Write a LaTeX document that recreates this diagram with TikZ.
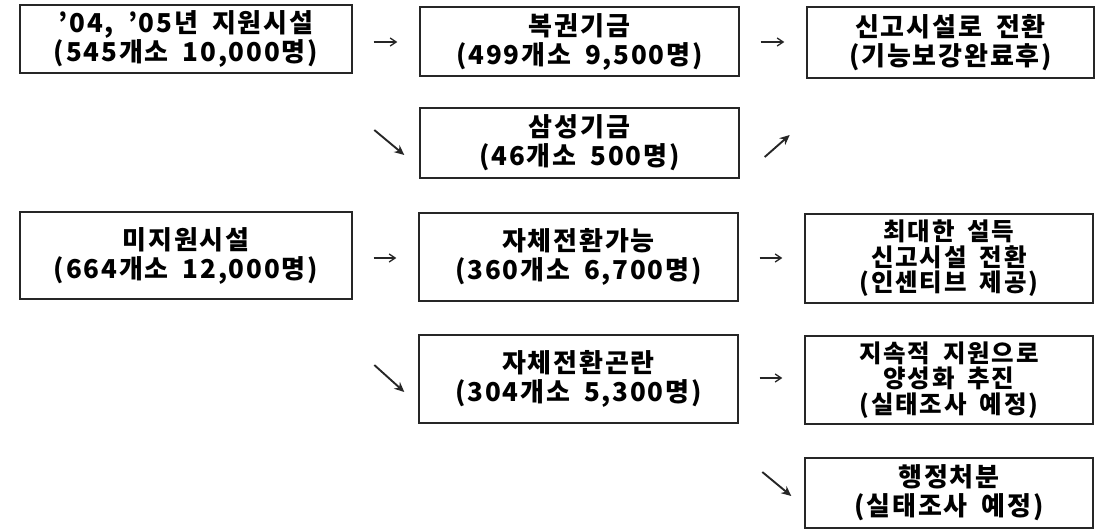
\documentclass[tikz,border=0pt]{standalone}
\usepackage{fontspec}
\setmainfont{Noto Sans CJK KR}[LetterSpace=7,WordSpace=1.8]
\usetikzlibrary{arrows.meta,calc}
\tikzset{
  box/.style={draw=black!85, line width=1.4pt, align=center, inner sep=0pt,
    font=\fontsize{26}{29}\selectfont\bfseries},
  box3/.style={box, font=\fontsize{24.5}{25.5}\selectfont\bfseries},
  arr/.style={-{Straight Barb[length=6pt,width=8pt]}, line width=1.3pt, black!85},
  darr/.style={-{Stealth[length=10pt,width=9pt]}, line width=1.9pt, black!85}
}
\begin{document}
\begin{tikzpicture}[x=1pt,y=-1pt]
\useasboundingbox (0,0) rectangle (1103,530);
\node[box, minimum width=332pt, minimum height=68pt] (b1) at (186,39) {'04, '05년 지원시설\\(545개소 10,000명)};
\node[box, minimum width=319pt, minimum height=69pt] (b2) at (579.5,41.5) {복권기금\\(499개소 9,500명)};
\node[box, minimum width=319pt, minimum height=70pt] (b3) at (579.5,143) {삼성기금\\(46개소 500명)};
\node[box, minimum width=287pt, minimum height=71pt] (b4) at (950.5,42.5) {신고시설로 전환\\(기능보강완료후)};
\node[box, minimum width=332pt, minimum height=87pt] (b5) at (186,255.5) {미지원시설\\(664개소 12,000명)};
\node[box, minimum width=319pt, minimum height=88pt] (b6) at (578.5,257) {자체전환가능\\(360개소 6,700명)};
\node[box, minimum width=319pt, minimum height=88pt] (b7) at (578.5,379) {자체전환곤란\\(304개소 5,300명)};
\node[box3, minimum width=288pt, minimum height=89pt] (b8) at (949,258.5) {최대한 설득\\신고시설 전환\\(인센티브 제공)};
\node[box3, minimum width=288pt, minimum height=88pt] (b9) at (949,380) {지속적 지원으로\\양성화 추진\\(실태조사 예정)};
\node[box, minimum width=288pt, minimum height=70pt] (b10) at (949,493) {행정처분\\(실태조사 예정)};
% horizontal arrows
\draw[arr, shorten <=21pt, shorten >=22pt] (b1.east |- 0,42) -- (b2.west |- 0,42);
\draw[arr, shorten <=21pt, shorten >=22pt] (b2.east |- 0,42) -- (b4.west |- 0,42);
\draw[arr, shorten <=21pt, shorten >=22pt] (b5.east |- 0,258) -- (b6.west |- 0,258);
\draw[arr, shorten <=21pt, shorten >=22pt] (b6.east |- 0,258) -- (b8.west |- 0,258);
\draw[arr, shorten <=21pt, shorten >=22pt] (b7.east |- 0,378) -- (b9.west |- 0,378);
% diagonal arrows
\coordinate (d1s) at ($(b3.west)+(-45,-13)$);
\coordinate (d1e) at ($(b3.west)+(-15,12)$);
\draw[darr] (d1s) -- (d1e);
\coordinate (d2s) at ($(b3.east)+(25,14)$);
\coordinate (d2e) at ($(b3.east)+(50,-8)$);
\draw[darr] (d2s) -- (d2e);
\coordinate (d3s) at ($(b7.west)+(-44,-14)$);
\coordinate (d3e) at ($(b7.west)+(-14,13)$);
\draw[darr] (d3s) -- (d3e);
\coordinate (d4s) at ($(b10.west)+(-42,-21)$);
\coordinate (d4e) at ($(b10.west)+(-13,3)$);
\draw[darr] (d4s) -- (d4e);
\end{tikzpicture}
\end{document}
